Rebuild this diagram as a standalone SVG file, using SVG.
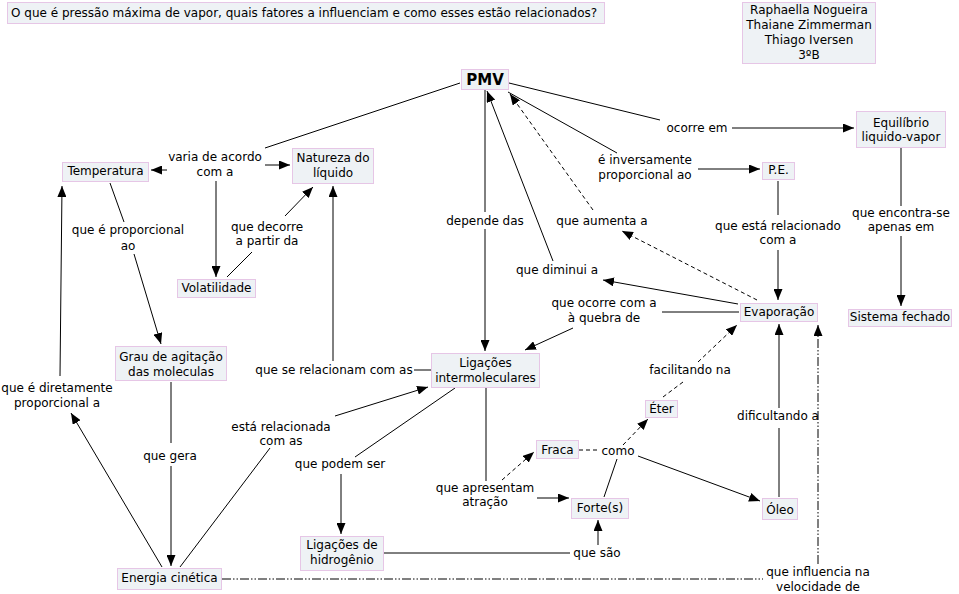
<svg xmlns="http://www.w3.org/2000/svg" width="959" height="594" viewBox="0 0 959 594">
<defs>
<marker id="ah" markerUnits="userSpaceOnUse" markerWidth="11" markerHeight="9" refX="11" refY="4.5" orient="auto">
<path d="M0,0 L11,4.5 L0,9 z" fill="#000"/>
</marker>
<style>
.n rect{fill:#eef2f5;stroke:#e6c6e6;stroke-width:1}
text{font-family:"DejaVu Sans",Verdana,sans-serif;font-size:12px;fill:#000}
.m{text-anchor:middle}
.c line{stroke:#000;stroke-width:1}
.c .a{marker-end:url(#ah)}
.c .d{stroke-dasharray:4 3}
.c .dd{stroke-dasharray:9 2 1.5 2 1.5 2}
</style>
</defs>
<rect width="959" height="594" fill="#fff"/>

<g class="c" id="connectors">
<line x1="460" y1="83" x2="265" y2="148"/>
<line class="a" x1="167" y1="170" x2="151" y2="170"/>
<line class="a" x1="265" y1="165" x2="290" y2="165"/>
<line class="a" x1="216" y1="181" x2="216" y2="277"/>
<line x1="227" y1="277" x2="252" y2="252"/>
<line class="a" x1="285" y1="216" x2="313" y2="187"/>
<line x1="110" y1="183" x2="124" y2="222"/>
<line class="a" x1="134" y1="254" x2="161" y2="344"/>
<line x1="171" y1="382" x2="171" y2="443"/>
<line class="a" x1="171" y1="466" x2="171" y2="566"/>
<line class="a" x1="162" y1="567" x2="71" y2="413"/>
<line class="a" x1="60" y1="376" x2="62" y2="186"/>
<line x1="180" y1="567" x2="270" y2="448"/>
<line class="a" x1="335" y1="416" x2="428" y2="387"/>
<line class="a" x1="333" y1="361" x2="333" y2="186"/>
<line x1="431" y1="370" x2="414" y2="370"/>
<line x1="455" y1="388" x2="355" y2="457"/>
<line class="a" x1="341" y1="474" x2="341" y2="534"/>
<line x1="384" y1="553" x2="570" y2="553"/>
<line class="a" x1="598" y1="545" x2="598" y2="520"/>
<line x1="486" y1="388" x2="486" y2="481"/>
<line class="a" x1="537" y1="498" x2="569" y2="498"/>
<line class="a d" x1="502" y1="480" x2="534" y2="452"/>
<line class="d" x1="579" y1="450" x2="600" y2="450"/>
<line x1="604" y1="497" x2="617" y2="459"/>
<line class="a d" x1="623" y1="445" x2="648" y2="419"/>
<line class="a" x1="638" y1="456" x2="760" y2="501"/>
<line x1="779" y1="497" x2="779" y2="428"/>
<line class="a" x1="779" y1="408" x2="779" y2="324"/>
<line class="dd" x1="222" y1="579" x2="763" y2="579"/>
<line class="a dd" x1="818" y1="564" x2="818" y2="325"/>
<line class="d" x1="663" y1="397" x2="683" y2="382"/>
<line class="a d" x1="698" y1="362" x2="737" y2="325"/>
<line x1="739" y1="312" x2="662" y2="312"/>
<line class="a" x1="573" y1="328" x2="525" y2="350"/>
<line class="a" x1="738" y1="304" x2="603" y2="280"/>
<line class="a" x1="553" y1="261" x2="487" y2="91"/>
<line x1="485" y1="89" x2="485" y2="212"/>
<line class="a" x1="485" y1="229" x2="485" y2="351"/>
<line class="a d" x1="757" y1="300" x2="622" y2="231"/>
<line class="a d" x1="593" y1="210" x2="510" y2="94"/>
<line x1="508" y1="92" x2="617" y2="153"/>
<line class="a" x1="698" y1="169" x2="760" y2="169"/>
<line x1="778" y1="181" x2="778" y2="215"/>
<line class="a" x1="778" y1="250" x2="778" y2="300"/>
<line x1="509" y1="83" x2="660" y2="120"/>
<line class="a" x1="732" y1="128" x2="854" y2="128"/>
<line x1="901" y1="148" x2="901" y2="206"/>
<line class="a" x1="901" y1="236" x2="901" y2="306"/>
</g>

<g id="labels">
<text class="m" x="215" y="161">varia de acordo</text><text class="m" x="215" y="176">com a</text>
<text class="m" x="267" y="231">que decorre</text><text class="m" x="267" y="245">a partir da</text>
<text class="m" x="128" y="234">que é proporcional</text><text class="m" x="128" y="250">ao</text>
<text class="m" x="57" y="392">que é diretamente</text><text class="m" x="57" y="407">proporcional a</text>
<text class="m" x="170" y="460">que gera</text>
<text class="m" x="281" y="431">está relacionada</text><text class="m" x="281" y="445">com as</text>
<text class="m" x="334" y="374">que se relacionam com as</text>
<text class="m" x="340" y="468">que podem ser</text>
<text class="m" x="485" y="225">depende das</text>
<text class="m" x="602" y="225">que aumenta a</text>
<text class="m" x="557" y="274">que diminui a</text>
<text class="m" x="604" y="307">que ocorre com a</text><text class="m" x="604" y="322">à quebra de</text>
<text class="m" x="645" y="164">é inversamente</text><text class="m" x="645" y="179">proporcional ao</text>
<text class="m" x="697" y="132">ocorre em</text>
<text class="m" x="778" y="230">que está relacionado</text><text class="m" x="778" y="244">com a</text>
<text class="m" x="901" y="217">que encontra-se</text><text class="m" x="901" y="231">apenas em</text>
<text class="m" x="690" y="374">facilitando na</text>
<text class="m" x="778" y="420">dificultando a</text>
<text class="m" x="485" y="492">que apresentam</text><text class="m" x="485" y="506">atração</text>
<text class="m" x="618" y="455">como</text>
<text class="m" x="597" y="557">que são</text>
<text class="m" x="818" y="576">que influencia na</text><text class="m" x="818" y="591">velocidade de</text>
</g>

<g class="n" id="title"><rect x="7.5" y="2.5" width="597" height="21"/><text x="11" y="17">O que é pressão máxima de vapor, quais fatores a influenciam e como esses estão relacionados?</text></g>
<g class="n" id="authors"><rect x="742.5" y="2.5" width="133" height="61"/>
<text class="m" x="809" y="14">Raphaella Nogueira</text><text class="m" x="809" y="29">Thaiane Zimmerman</text><text class="m" x="809" y="44">Thiago Iversen</text><text class="m" x="809" y="59">3ºB</text></g>
<g class="n" id="pmv"><rect x="461.5" y="69.5" width="47" height="20"/><text class="m" x="485" y="85" style="font-weight:bold;font-size:15px">PMV</text></g>
<g class="n" id="equilibrio"><rect x="856.5" y="111.5" width="89" height="36"/><text class="m" x="901" y="127">Equilíbrio</text><text class="m" x="901" y="141">liquido-vapor</text></g>
<g class="n" id="temperatura"><rect x="62.5" y="162.5" width="86" height="19"/><text class="m" x="105.5" y="175">Temperatura</text></g>
<g class="n" id="natureza"><rect x="292.5" y="148.5" width="81" height="35"/><text class="m" x="333" y="162">Natureza do</text><text class="m" x="333" y="177">líquido</text></g>
<g class="n" id="pe"><rect x="762.5" y="162.5" width="32" height="17"/><text class="m" x="778.5" y="174">P.E.</text></g>
<g class="n" id="volatilidade"><rect x="177.5" y="279.5" width="78" height="18"/><text class="m" x="216.5" y="292">Volatilidade</text></g>
<g class="n" id="evaporacao"><rect x="740.5" y="303.5" width="77" height="18"/><text class="m" x="779" y="316">Evaporação</text></g>
<g class="n" id="sistema"><rect x="848.5" y="309.5" width="103" height="17"/><text class="m" x="900" y="321">Sistema fechado</text></g>
<g class="n" id="grau"><rect x="115.5" y="346.5" width="111" height="34"/><text class="m" x="171" y="361">Grau de agitação</text><text class="m" x="171" y="376">das moleculas</text></g>
<g class="n" id="ligacoes"><rect x="431.5" y="353.5" width="108" height="34"/><text class="m" x="485.5" y="367">Ligações</text><text class="m" x="485.5" y="382">intermoleculares</text></g>
<g class="n" id="eter"><rect x="645.5" y="400.5" width="32" height="17"/><text class="m" x="661.5" y="413">Éter</text></g>
<g class="n" id="fraca"><rect x="536.5" y="440.5" width="42" height="18"/><text class="m" x="557.5" y="454">Fraca</text></g>
<g class="n" id="fortes"><rect x="571.5" y="498.5" width="57" height="20"/><text class="m" x="600" y="512">Forte(s)</text></g>
<g class="n" id="oleo"><rect x="762.5" y="498.5" width="35" height="21"/><text class="m" x="780" y="514">Óleo</text></g>
<g class="n" id="hidrogenio"><rect x="300.5" y="536.5" width="83" height="34"/><text class="m" x="342" y="549">Ligações de</text><text class="m" x="342" y="564">hidrogênio</text></g>
<g class="n" id="energia"><rect x="117.5" y="568.5" width="104" height="21"/><text class="m" x="169.5" y="582">Energia cinética</text></g>
</svg>
